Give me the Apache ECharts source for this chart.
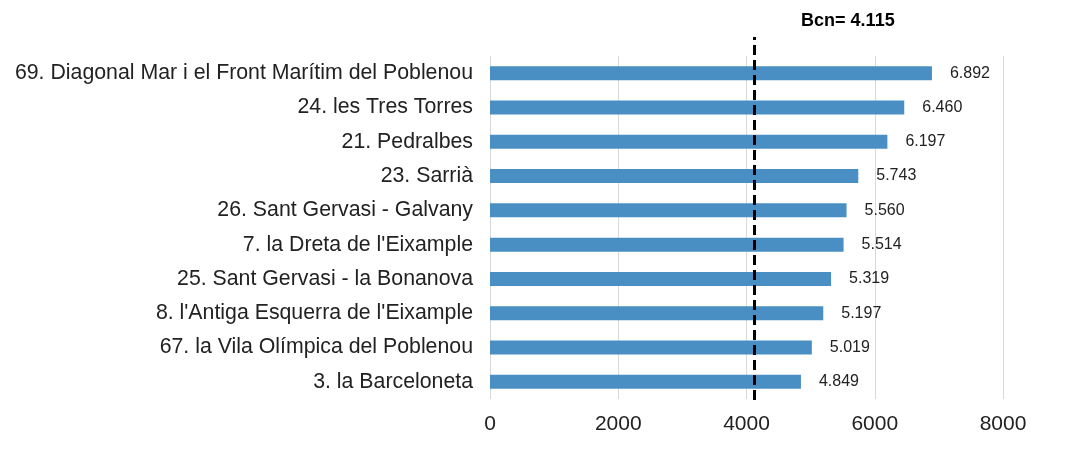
<!DOCTYPE html>
<html>
<head>
<meta charset="utf-8">
<script src="https://cdn.jsdelivr.net/npm/echarts@6/dist/echarts.min.js"></script>
<style>
  html, body { margin: 0; padding: 0; background: #fff; }
  #chart { width: 1079px; height: 454px; }
</style>
</head>
<body>
<div id="chart"></div>
<script>
  // barris amb renda més alta
  var barris = [
    '69. Diagonal Mar i el Front Marítim del Poblenou',
    '24. les Tres Torres',
    '21. Pedralbes',
    '23. Sarrià',
    '26. Sant Gervasi - Galvany',
    "7. la Dreta de l'Eixample",
    '25. Sant Gervasi - la Bonanova',
    "8. l'Antiga Esquerra de l'Eixample",
    '67. la Vila Olímpica del Poblenou',
    '3. la Barceloneta'
  ];
  var valors = [6892, 6460, 6197, 5743, 5560, 5514, 5319, 5197, 5019, 4849];
  var mitjanaBcn = 4115;
  var ticksX = [0, 2000, 4000, 6000, 8000];

  function puntMilers(v) {
    return String(v).replace(/\B(?=(\d{3})+(?!\d))/g, '.');
  }

  var myChart = echarts.init(document.getElementById('chart'));
  myChart.setOption({
    animation: false,
    textStyle: { fontFamily: 'Liberation Sans, Arial, sans-serif' },
    grid: { left: 490, right: 76, top: 56, bottom: 55 },
    xAxis: {
      type: 'value',
      min: ticksX[0],
      max: ticksX[ticksX.length - 1],
      interval: 2000,
      axisLine: { show: false },
      axisTick: { show: false },
      splitLine: { lineStyle: { color: '#d9d9d9', width: 1 } },
      axisLabel: {
        color: '#222', fontSize: 21, margin: 15,
        formatter: function (v) { return String(v); }
      }
    },
    yAxis: {
      type: 'category',
      inverse: true,
      data: barris,
      axisLine: { show: false },
      axisTick: { show: false },
      axisLabel: { color: '#222', fontSize: 21.3, margin: 17 }
    },
    series: [{
      type: 'bar',
      data: valors,
      barWidth: 14,
      itemStyle: { color: '#4a8fc3' },
      label: {
        show: true,
        position: 'right',
        distance: 18,
        color: '#222',
        fontSize: 16,
        formatter: function (p) { return puntMilers(p.value); }
      },
      markLine: {
        symbol: 'none',
        silent: true,
        lineStyle: { color: '#000', type: [10, 5], width: 3 },
        label: {
          position: 'end',
          formatter: 'Bcn= ' + puntMilers(mitjanaBcn),
          fontWeight: 'bold',
          fontSize: 18,
          color: '#000',
          offset: [94, -2]
        },
        data: [[
          { coord: [mitjanaBcn, 0], y: 400 },
          { coord: [mitjanaBcn, 0], y: 37 }
        ]]
      }
    }]
  });
</script>
</body>
</html>
